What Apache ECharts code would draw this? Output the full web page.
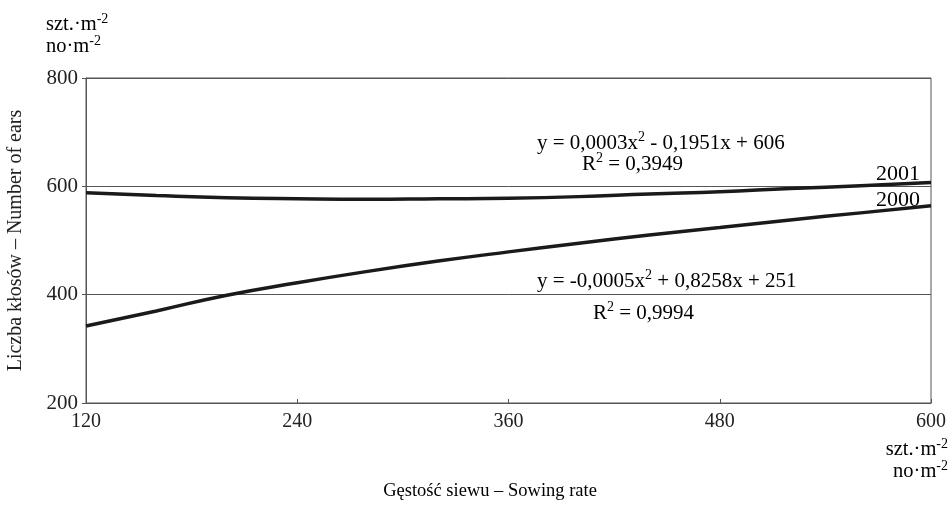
<!DOCTYPE html>
<html>
<head>
<meta charset="utf-8">
<script src="https://cdn.jsdelivr.net/npm/echarts@6/dist/echarts.min.js"></script>
<style>
  html, body { margin: 0; padding: 0; background: #fff; }
  #chart { width: 952px; height: 506px; }
</style>
</head>
<body>
<div id="chart"></div>
<script>
// sowing rate (x) and number of ears
var sowingRate = [120, 160, 200, 240, 280, 320, 360, 400, 440, 480, 520, 560, 600];
var ears2000 = [342, 370, 399, 422, 443, 462, 479, 495, 510, 524, 538, 551, 564];
var ears2001 = [588, 583, 579, 577, 576, 577, 578, 581, 586, 590, 596, 601, 607];

var font = 'Liberation Serif';
var ink = '#222';

function pairs(ys) {
    return sowingRate.map(function (x, i) { return [x, ys[i]]; });
}

// text with superscripts, size = main font size
function label(text, x, y, size, align) {
    var lh = Math.round(size * 1.2);
    return {
        type: 'text',
        x: x,
        y: y,
        style: {
            text: text,
            rich: {
                t: { fontFamily: font, fontSize: size, color: ink, lineHeight: lh },
                sup: { fontFamily: font, fontSize: Math.round(size * 0.68), color: ink,
                       verticalAlign: 'top', lineHeight: lh, padding: [0, 0, Math.round(size * 0.5), 0] }
            },
            align: align || 'left',
            verticalAlign: 'middle'
        }
    };
}

var option = {
    animation: false,
    backgroundColor: '#fff',
    grid: {
        left: 86, right: 21, top: 78, bottom: 103,
        outerBoundsMode: 'none',
        containLabel: false,
        show: true, borderColor: '#555', borderWidth: 1
    },
    xAxis: {
        type: 'value',
        min: 120, max: 600, interval: 120,
        axisLine: { show: true, lineStyle: { color: '#555', width: 1 } },
        axisTick: { show: true, inside: true, length: 4, lineStyle: { color: '#555' } },
        axisLabel: { fontFamily: font, fontSize: 20, color: ink, margin: 9 },
        splitLine: { show: false }
    },
    yAxis: {
        type: 'value',
        min: 200, max: 800, interval: 200,
        name: 'Liczba kłosów – Number of ears',
        nameLocation: 'middle',
        nameGap: 60,
        nameRotate: 90,
        nameTextStyle: { fontFamily: font, fontSize: 20, color: ink },
        axisLine: { show: true, lineStyle: { color: '#555', width: 1 } },
        axisTick: { show: true, length: 4, lineStyle: { color: '#555' } },
        axisLabel: { fontFamily: font, fontSize: 21, color: ink, margin: 8 },
        splitLine: { show: true, lineStyle: { color: '#555', width: 1 } }
    },
    graphic: [
        label('{t|szt.·m}{sup|-2}', 46, 25, 20.5),
        label('{t|no·m}{sup|-2}', 46, 47, 20.5),
        label('{t|szt.·m}{sup|-2}', 948, 450, 20.5, 'right'),
        label('{t|no·m}{sup|-2}', 948, 472, 20.5, 'right'),
        label('{t|Gęstość siewu – Sowing rate}', 490, 491, 18.5, 'center'),
        label('{t|y = 0,0003x}{sup|2}{t| - 0,1951x + 606}', 537, 143, 21),
        label('{t|R}{sup|2}{t| = 0,3949}', 582, 164, 21),
        label('{t|2001}', 920, 174, 22, 'right'),
        label('{t|2000}', 920, 200, 22, 'right'),
        label('{t|y = -0,0005x}{sup|2}{t| + 0,8258x + 251}', 537, 281, 21),
        label('{t|R}{sup|2}{t| = 0,9994}', 593, 313, 21)
    ],
    series: [
        {
            name: '2001',
            type: 'line',
            smooth: true,
            symbol: 'none',
            lineStyle: { color: '#1a1a1a', width: 3.5 },
            data: pairs(ears2001)
        },
        {
            name: '2000',
            type: 'line',
            smooth: true,
            symbol: 'none',
            lineStyle: { color: '#1a1a1a', width: 3.5 },
            data: pairs(ears2000)
        }
    ]
};

var chart = echarts.init(document.getElementById('chart'));
chart.setOption(option);
</script>
</body>
</html>
